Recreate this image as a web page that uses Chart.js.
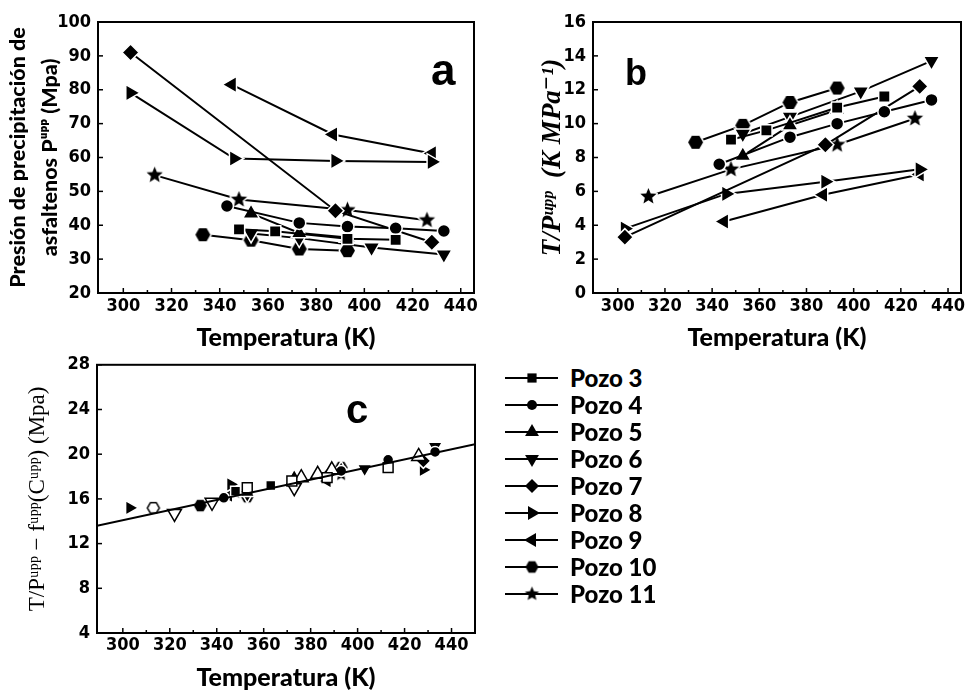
<!DOCTYPE html>
<html><head><meta charset="utf-8">
<script src="https://cdn.jsdelivr.net/npm/chart.js@4/dist/chart.umd.min.js"></script>
<style>
html,body{margin:0;padding:0;background:#fff;}
#wrap{position:relative;width:972px;height:694px;overflow:hidden;background:#fff;}
canvas.ch{position:absolute;}
.plab{position:absolute;font-family:'Liberation Sans',Arial,sans-serif;font-weight:bold;line-height:1;color:#000;}
.lrow{position:absolute;left:500px;width:220px;height:24px;}
.lrow canvas{position:absolute;left:0;top:0;}
.lrow span{position:absolute;left:70px;top:0;line-height:24px;font-family:Lato,sans-serif;font-weight:900;font-size:24px;color:#000;white-space:nowrap;}
</style></head>
<body><div id="wrap">
<canvas id="ca" class="ch" width="485" height="352" style="left:0;top:0"></canvas>
<canvas id="cb" class="ch" width="472" height="352" style="left:500px;top:0"></canvas>
<canvas id="cc" class="ch" width="485" height="347" style="left:0;top:347px"></canvas>
<div class="plab" style="left:431px;top:48px;font-size:44px">a</div>
<div class="plab" style="left:625px;top:55px;font-size:36px">b</div>
<div class="plab" style="left:346px;top:389px;font-size:40px">c</div>
<div id="legend"></div>
</div>
<script>
// ---------- data ----------
const WELLS = ['Pozo 3','Pozo 4','Pozo 5','Pozo 6','Pozo 7','Pozo 8','Pozo 9','Pozo 10','Pozo 11'];
const X_TICKS = [300,320,340,360,380,400,420,440];
const A_TICKS = [20,30,40,50,60,70,80,90,100];
const B_TICKS = [0,2,4,6,8,10,12,14,16];
const C_TICKS = [4,8,12,16,20,24,28];

// temperatures (K) per well, panels a and b
const T_P3  = [348, 363, 393, 413];
const T_P4  = [343, 373, 393, 413, 433];
const T_P5  = [353, 373, 393];
const T_P6  = [353, 373, 403, 433];
const T_P7  = [303, 388, 428];
const T_P8  = [303, 346, 388, 428];
const T_P9  = [345, 387, 428];
const T_P10 = [333, 353, 373, 393];
const T_P11 = [313, 348, 393, 426];

// panel a: asphaltene precipitation pressure P^upp (MPa)
const A_P3  = [38.8, 38.2, 36.0, 35.7];
const A_P4  = [45.7, 40.7, 39.6, 39.1, 38.3];
const A_P5  = [43.5, 37.7, 36.4];
const A_P6  = [37.6, 36.2, 33.4, 31.4];
const A_P7  = [91.0, 44.3, 35.0];
const A_P8  = [79.1, 59.7, 59.0, 58.7];
const A_P9  = [81.5, 66.8, 61.2];
const A_P10 = [37.2, 35.6, 33.0, 32.5];
const A_P11 = [54.8, 47.6, 44.5, 41.5];

// panel b: T/P^upp (K MPa^-1)
const B_P3  = [9.05, 9.6, 10.95, 11.6];
const B_P4  = [7.6, 9.2, 10.0, 10.7, 11.4];
const B_P5  = [8.1, 9.9, 10.8];
const B_P6  = [9.4, 10.4, 11.9, 13.7];
const B_P7  = [3.3, 8.75, 12.2];
const B_P8  = [3.8, 5.85, 6.57, 7.3];
const B_P9  = [4.22, 5.8, 7.0];
const B_P10 = [8.9, 9.9, 11.25, 12.1];
const B_P11 = [5.7, 7.3, 8.75, 10.3];

// panel c: T/P^upp - f^upp(C^upp)
const C_T3  = [348, 363];            const C_V3  = [16.7, 17.2];
const C_T4  = [343, 373, 393, 413, 433]; const C_V4 = [16.1, 17.5, 18.5, 19.5, 20.2];
const C_T5  = [353, 373, 393];       const C_V5  = [16.6, 17.9, 18.6];
const C_T6  = [353, 373, 403, 433];  const C_V6  = [16.4, 17.2, 18.7, 20.7];
const C_T7  = [388, 428];            const C_V7  = [18.3, 19.4];
const C_T8  = [303, 346, 428];       const C_V8  = [15.2, 17.3, 18.6];
const C_T9  = [345, 387];            const C_V9  = [16.3, 17.6];
const C_T10 = [333, 353, 393];       const C_V10 = [15.4, 16.2, 18.8];
const C_T11 = [348, 393];            const C_V11 = [16.6, 18.2];
const C_OSQ_T = [353, 372, 387, 413]; const C_OSQ_V = [17.0, 17.6, 17.9, 18.8];
const C_OUP_T = [376, 383, 389, 426]; const C_OUP_V = [17.9, 18.2, 18.6, 19.8];
const C_ODN_T = [322, 338, 373];      const C_ODN_V = [14.7, 15.7, 17.0];
const C_OHX_T = [313];                const C_OHX_V = [15.2];
const FIT_T = [289, 450];             const FIT_V = [13.6, 20.9];

const TEMPS = [T_P3,T_P4,T_P5,T_P6,T_P7,T_P8,T_P9,T_P10,T_P11];
const PA = [A_P3,A_P4,A_P5,A_P6,A_P7,A_P8,A_P9,A_P10,A_P11];
const PB = [B_P3,B_P4,B_P5,B_P6,B_P7,B_P8,B_P9,B_P10,B_P11];
const CT = [C_T3,C_T4,C_T5,C_T6,C_T7,C_T8,C_T9,C_T10,C_T11];
const CV = [C_V3,C_V4,C_V5,C_V6,C_V7,C_V8,C_V9,C_V10,C_V11];

// ---------- marker images ----------
function shapeCanvas(kind, R, mode){
  const pad = 3;
  const s = Math.ceil(2*R + 2*pad);
  const c = document.createElement('canvas'); c.width = s; c.height = s;
  const g = c.getContext('2d');
  const cx = s/2, cy = s/2;
  g.beginPath();
  if (kind === 'star') {
    for (let i=0;i<10;i++){ const a=-Math.PI/2+i*Math.PI/5; const rr = i%2 ? R*0.45 : R; g.lineTo(cx+rr*Math.cos(a), cy+rr*Math.sin(a)); }
  } else {
    for (let i=0;i<6;i++){ const a=i*Math.PI/3; g.lineTo(cx+R*Math.cos(a), cy+R*Math.sin(a)); }
  }
  g.closePath();
  g.lineJoin = 'round';
  if (mode === 'gap') { g.strokeStyle='#fff'; g.lineWidth=3; g.stroke(); g.fillStyle='#000'; g.fill(); }
  else if (mode === 'open') { g.fillStyle='#fff'; g.fill(); g.strokeStyle='#000'; g.lineWidth=1.5; g.stroke(); }
  else { g.fillStyle='#000'; g.fill(); }
  return c;
}
const HEX_GAP = shapeCanvas('hex', 7.5, 'gap');
const HEX_LEG = shapeCanvas('hex', 6.5, 'plain');
const HEX_C   = shapeCanvas('hex', 6.5, 'gap');
const HEX_OPEN= shapeCanvas('hex', 6, 'open');
const STAR_GAP = shapeCanvas('star', 8.5, 'gap');
const STAR_LEG = shapeCanvas('star', 7.5, 'plain');
const STAR_C   = shapeCanvas('star', 7, 'gap');

const STYLES = [
  {style:'rect', r:8, rot:0},
  {style:'circle', r:6.5, rot:0},
  {style:'triangle', r:9.5, rot:0},
  {style:'triangle', r:9.5, rot:180},
  {style:'rectRot', r:8.5, rot:0},
  {style:'triangle', r:9.5, rot:90},
  {style:'triangle', r:9.5, rot:270},
  {style:HEX_GAP, r:7, rot:0, leg:HEX_LEG, c:HEX_C},
  {style:STAR_GAP, r:7, rot:0, leg:STAR_LEG, c:STAR_C}
];

// ---------- helpers ----------
const TICK_FONT = {family:"'Liberation Sans Narrow','DejaVu Sans Condensed','Liberation Sans',sans-serif", weight:'bold', size:18};
const TITLE_FONT = {family:"Lato,'DejaVu Sans',sans-serif", weight:'900', size:25, lineHeight:1};

const frame = {
  id:'frame',
  beforeDatasetsDraw(chart){
    const {ctx, chartArea:a} = chart; const x = chart.scales.x, y = chart.scales.y;
    ctx.save(); ctx.strokeStyle='#000'; ctx.lineWidth=2;
    ctx.strokeRect(a.left, a.top, a.right-a.left, a.bottom-a.top);
    ctx.lineWidth=1.5;
    const seg=(x1,y1,x2,y2)=>{ctx.beginPath();ctx.moveTo(x1,y1);ctx.lineTo(x2,y2);ctx.stroke();};
    x.ticks.forEach(t=>{
      const p=x.getPixelForValue(t.value); seg(p,a.bottom,p,a.bottom-5);
      const mv=t.value+10; if (mv < x.max) { const m=x.getPixelForValue(mv); seg(m,a.bottom,m,a.bottom-3); }
    });
    y.ticks.forEach(t=>{ const p=y.getPixelForValue(t.value); seg(a.left,p,a.left+5,p); });
    ctx.restore();
  }
};

function xScale(min, max, h, tickPad, titlePad){
  return { type:'linear', min, max,
    afterBuildTicks: s => { s.ticks = X_TICKS.map(v=>({value:v})); },
    ticks:{ font:TICK_FONT, color:'#000', padding:tickPad, maxRotation:0, autoSkip:false },
    grid:{ display:false, drawTicks:false }, border:{ display:false },
    title:{ display:true, text:'Temperatura (K)', font:TITLE_FONT, color:'#000', padding:{top:0,bottom:titlePad} },
    afterFit: s => { s.height = h; } };
}
function yScale(min, max, ticksArr, w, title){
  return { type:'linear', min, max,
    afterBuildTicks: s => { s.ticks = ticksArr.map(v=>({value:v})); },
    ticks:{ font:TICK_FONT, color:'#000', padding:7 },
    grid:{ display:false, drawTicks:false }, border:{ display:false },
    title, afterFit: s => { s.width = w; } };
}
function pts(T, V){ return T.map((t,i)=>({x:t, y:V[i]})); }
function wellDS(i, V, T, small){
  const st = STYLES[i];
  const img = typeof st.style !== 'string';
  const ps = small ? (img ? st.c : st.style) : st.style;
  return { label:WELLS[i], data:pts(T, V), showLine:!small,
    borderColor:'#000', borderWidth:2, backgroundColor:'#000',
    pointStyle:ps, pointRadius: small ? st.r-1 : st.r, pointRotation:st.rot,
    pointBackgroundColor:'#000', pointBorderColor:'#fff', pointBorderWidth: img ? 0 : 1.5 };
}
function openDS(label, T, V, style, rot, r){
  return { label, data:pts(T, V), showLine:false, pointStyle:style, pointRadius:r, pointRotation:rot,
    pointBackgroundColor:'#fff', pointBorderColor:'#000', pointBorderWidth:1.5 };
}
function makeChart(id, datasets, xs, ys, pad){
  return new Chart(document.getElementById(id), { type:'scatter', data:{datasets},
    options:{ responsive:false, animation:false, devicePixelRatio:1, events:[],
      layout:{padding:pad},
      plugins:{legend:{display:false}, tooltip:{enabled:false}},
      scales:{x:xs, y:ys} },
    plugins:[frame] });
}

// ---------- panel a ----------
makeChart('ca', WELLS.map((w,i)=>wellDS(i, PA[i], TEMPS[i], false)),
  xScale(289.5, 445.5, 352-293, 3, 2),
  yScale(20, 100, A_TICKS, 98, { display:true,
    text:['Presión de precipitación de','asfaltenos Pᵘᵖᵖ (Mpa)'],
    font:{family:"Lato,'DejaVu Sans',sans-serif", weight:'900', size:21.5, lineHeight:1.5}, color:'#000',
    padding:{top:2,bottom:0} }),
  {top:22, right:8, left:0, bottom:0});

// ---------- panel b ----------
makeChart('cb', WELLS.map((w,i)=>wellDS(i, PB[i], TEMPS[i], false)),
  xScale(289.5, 445.5, 352-293, 3, 2),
  yScale(0, 16, B_TICKS, 93, { display:true,
    text:'T/Pᵘᵖᵖ  (K MPa⁻¹)',
    font:{family:"'Liberation Serif','DejaVu Serif',serif", style:'italic', weight:'bold', size:27, lineHeight:1.2}, color:'#000',
    padding:{top:37,bottom:0} }),
  {top:22, right:2, left:0, bottom:0});

// ---------- panel c ----------
const cSets = [
  { label:'fit', data:pts(FIT_T, FIT_V), showLine:true, borderColor:'#000', borderWidth:2, pointRadius:0 },
  openDS('open square', C_OSQ_T, C_OSQ_V, 'rect', 0, 7),
  openDS('open triangle', C_OUP_T, C_OUP_V, 'triangle', 0, 8),
  openDS('open down triangle', C_ODN_T, C_ODN_V, 'triangle', 180, 8),
  { label:'open hexagon', data:pts(C_OHX_T, C_OHX_V), showLine:false, pointStyle:HEX_OPEN, pointRadius:6 }
].concat(WELLS.map((w,i)=>wellDS(i, CV[i], CT[i], true)));
makeChart('cc', cSets,
  xScale(289, 450, 347-286, 2, 4),
  yScale(4, 28, C_TICKS, 97, { display:true,
    text:'T/Pᵘᵖᵖ − fᵘᵖᵖ(Cᵘᵖᵖ) (Mpa)',
    font:{family:"'Liberation Serif','DejaVu Serif',serif", size:23, lineHeight:1.2}, color:'#000',
    padding:{top:24,bottom:0} }),
  {top:16, right:9, left:0, bottom:0});

// ---------- legend ----------
const LEG_TOP = 378, LEG_STEP = 27;
const legend = document.getElementById('legend');
WELLS.forEach((name,i)=>{
  const row = document.createElement('div'); row.className='lrow';
  row.style.top = (LEG_TOP + i*LEG_STEP - 12) + 'px';
  const cv = document.createElement('canvas'); cv.width=64; cv.height=24; row.appendChild(cv);
  const g = cv.getContext('2d');
  g.strokeStyle='#000'; g.lineWidth=2; g.beginPath(); g.moveTo(5,12); g.lineTo(58,12); g.stroke();
  g.fillStyle='#000';
  const st = STYLES[i];
  Chart.helpers.drawPoint(g, {pointStyle: st.leg || st.style, rotation: st.rot, radius: st.r-1.5, borderWidth:0}, 32, 12);
  const sp = document.createElement('span'); sp.textContent = name; row.appendChild(sp);
  legend.appendChild(row);
});
</script>
</body></html>
